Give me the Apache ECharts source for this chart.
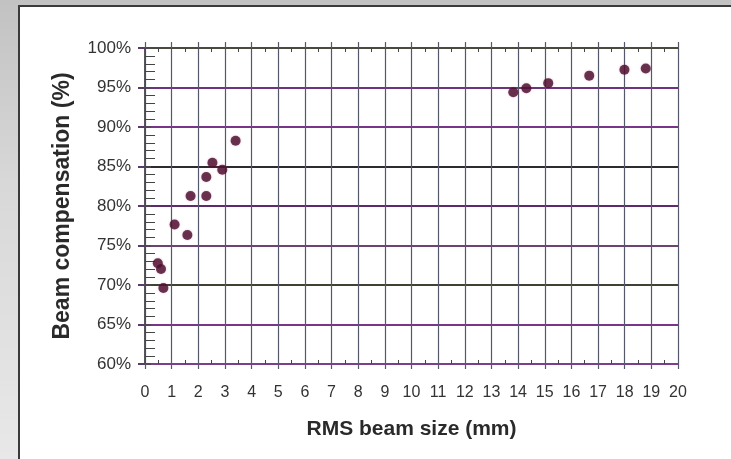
<!DOCTYPE html>
<html>
<head>
<meta charset="utf-8">
<script src="https://cdn.jsdelivr.net/npm/echarts@6/dist/echarts.min.js"></script>
<style>
html,body{margin:0;padding:0;width:731px;height:459px;overflow:hidden;}
body{background:linear-gradient(180deg,#c2c2c2 0%,#d8d8d8 40%,#e8e8e8 100%);position:relative;}
#panel{position:absolute;left:18px;top:5px;width:713px;height:454px;background:#fff;border-left:2px solid #3a3a3a;border-top:2px solid #3a3a3a;box-sizing:border-box;}
#chart{position:absolute;left:0;top:0;width:731px;height:459px;}
</style>
</head>
<body>
<div id="panel"></div>
<div id="chart"></div>
<script>
// Data
var beamSize = [0.48, 0.60, 0.69, 1.11, 1.59, 1.71, 2.30, 2.30, 2.53, 2.90, 3.40, 13.82, 14.31, 15.13, 16.67, 17.99, 18.79];
var compensation = [72.75, 72.03, 69.62, 77.66, 76.33, 81.27, 81.27, 83.67, 85.48, 84.6, 88.27, 94.4, 94.9, 95.55, 96.5, 97.25, 97.4];
var xTitle = 'RMS beam size (mm)';
var yTitle = 'Beam compensation (%)';
var xMin = 0, xMax = 20, xStep = 1;
var yMin = 60, yMax = 100, yStep = 5;

var points = beamSize.map(function (x, i) { return [x, compensation[i]]; });

var gridRect = { left: 145, right: 53, top: 48, bottom: 95 };
var hLineColors = ['#7b3f8e', '#7a358a', '#3e4232', '#6e4272', '#5e2a6c', '#2e2a32', '#7a358a', '#6e3380', '#4a4a3e'];
var vLineColor = '#55586a';
var fontFam = '"Liberation Sans", Arial, sans-serif';

function minorAxis(pos, isX, offset, split) {
  return {
    gridIndex: 1, type: 'value', position: pos, offset: offset,
    min: isX ? xMin : yMin, max: isX ? xMax : yMax, interval: isX ? xStep : yStep,
    axisLine: { show: false },
    axisTick: { show: true, inside: false, length: 0 },
    minorTick: { show: true, splitNumber: split, length: isX ? 4 : 5, lineStyle: { color: '#444', width: 1 } },
    axisLabel: { show: false },
    splitLine: { show: false }
  };
}

var chart = echarts.init(document.getElementById('chart'), null, { renderer: 'canvas' });
chart.setOption({
  animation: false,
  backgroundColor: 'transparent',
  grid: [
    Object.assign({ containLabel: false }, gridRect),
    Object.assign({ containLabel: false }, gridRect)
  ],
  xAxis: [
    {
      gridIndex: 0, type: 'value', position: 'bottom', min: xMin, max: xMax, interval: xStep,
      name: xTitle, nameLocation: 'middle', nameGap: 55,
      nameTextStyle: { fontFamily: fontFam, fontWeight: 'bold', fontSize: 21, color: '#2a2a2a' },
      axisLine: { show: true, lineStyle: { color: '#7b3f8e', width: 2 } },
      axisTick: { show: true, inside: false, length: 5, lineStyle: { color: vLineColor, width: 1.2 } },
      axisLabel: { show: true, margin: 21, fontFamily: fontFam, fontSize: 16, color: '#333' },
      splitLine: { show: true, lineStyle: { color: vLineColor, width: 1.2 } }
    },
    {
      gridIndex: 0, type: 'value', position: 'top', min: xMin, max: xMax, interval: xStep,
      axisLine: { show: true, lineStyle: { color: '#4a4a3e', width: 2 } },
      axisTick: { show: true, inside: false, length: 6, lineStyle: { color: vLineColor, width: 1.2 } },
      axisLabel: { show: false },
      splitLine: { show: false }
    },
    minorAxis('bottom', true, -4, 2),
    minorAxis('top', true, -4, 2)
  ],
  yAxis: [
    {
      gridIndex: 0, type: 'value', position: 'left', min: yMin, max: yMax, interval: yStep,
      name: yTitle, nameLocation: 'middle', nameGap: 71,
      nameTextStyle: { fontFamily: fontFam, fontWeight: 'bold', fontSize: 23, color: '#2a2a2a' },
      axisLine: { show: true, lineStyle: { color: vLineColor, width: 1.5 } },
      axisTick: { show: true, inside: false, length: 7, lineStyle: { color: '#5a3a6a', width: 2 } },
      axisLabel: { show: true, margin: 14, fontFamily: fontFam, fontSize: 17, color: '#333', formatter: '{value}%' },
      splitLine: { show: true, lineStyle: { color: hLineColors, width: 2 } }
    },
    {
      gridIndex: 0, type: 'value', position: 'right', min: yMin, max: yMax, interval: yStep,
      axisLine: { show: true, lineStyle: { color: '#4a4a4a', width: 1.5 } },
      axisTick: { show: true, inside: false, length: 6, lineStyle: { color: '#4a4a4a', width: 1.5 } },
      axisLabel: { show: false },
      splitLine: { show: false }
    },
    minorAxis('left', false, -5, 5),
    minorAxis('right', false, -5, 5)
  ],
  series: [{
    type: 'scatter',
    xAxisIndex: 0, yAxisIndex: 0,
    data: points,
    symbol: 'circle',
    symbolSize: 10,
    itemStyle: { color: '#4a0c2c', shadowColor: 'rgba(170,60,120,0.45)', shadowBlur: 2 },
    z: 5
  }]
});
</script>
</body>
</html>
